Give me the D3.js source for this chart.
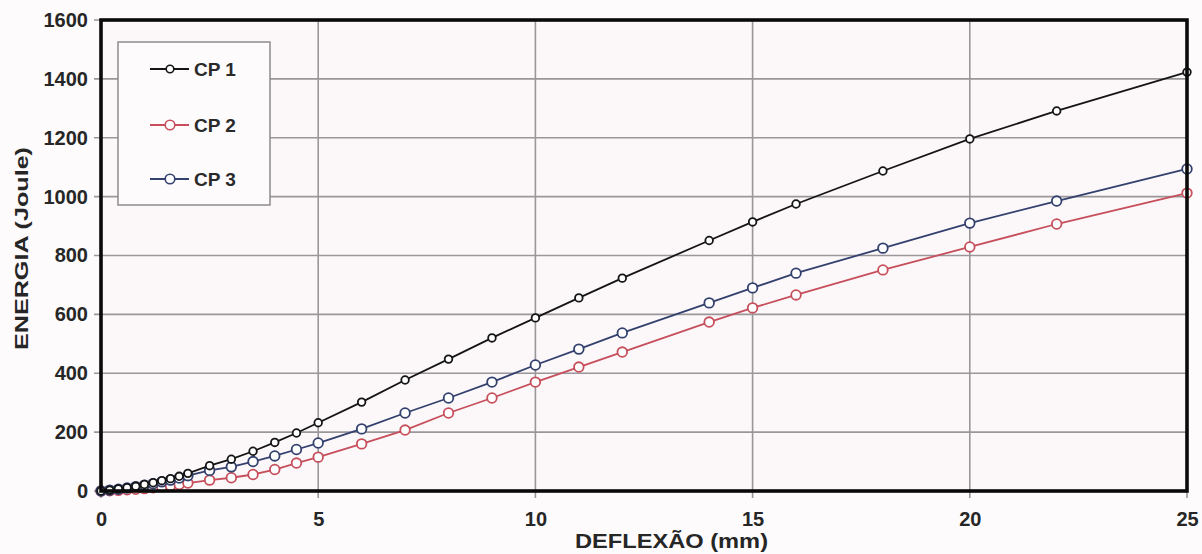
<!DOCTYPE html>
<html>
<head>
<meta charset="utf-8">
<script src="https://cdn.jsdelivr.net/npm/d3@7"></script>
<style>
  html, body { margin: 0; padding: 0; background: #fdfbfc; }
  svg { display: block; }
  text { font-family: "Liberation Sans", Arial, sans-serif; }
</style>
</head>
<body>
<svg id="chart" width="1202" height="554"></svg>
<script>
// ---- data ----
const deflexao = [0,0.2,0.4,0.6,0.8,1.0,1.2,1.4,1.6,1.8,2.0,2.5,3,3.5,4,4.5,5,6,7,8,9,10,11,12,14,15,16,18,20,22,25];
const cp1 = [0,3,7,11,16,22,28,35,42,50,60,86,108,135,165,197,232,302,377,448,520,588,656,723,851,914,975,1087,1196,1291,1423];
const cp2 = [0,1,2,4,6,8,11,14,18,22,27,37,45,56,73,95,115,160,207,265,316,370,421,472,574,622,666,751,829,907,1012];
const cp3 = [0,3,6,10,15,20,25,31,37,44,52,70,82,100,119,141,163,211,265,316,370,428,482,537,639,690,740,825,910,985,1094];
const seriesNames = ["CP 1", "CP 2", "CP 3"];
const xTicks = [0,5,10,15,20,25];
const yTicks = [0,200,400,600,800,1000,1200,1400,1600];
const xTitle = "DEFLEXÃO (mm)";
const yTitle = "ENERGIA (Joule)";

// ---- styles ----
const colors = ["#151515", "#c64f5b", "#33416e"];
const radii = [3.8, 4.8, 4.8];

const W = 1202, H = 554;
const m = {left: 101, right: 15, top: 20, bottom: 63};
const svg = d3.select("#chart");

const x = d3.scaleLinear().domain([0, 25]).range([m.left, W - m.right]);
const y = d3.scaleLinear().domain([0, 1600]).range([H - m.bottom, m.top]);

// plot background
svg.append("rect")
  .attr("x", x(0)).attr("y", y(1600))
  .attr("width", x(25) - x(0)).attr("height", y(0) - y(1600))
  .attr("fill", "#fcf7f9");

// gridlines
const grid = svg.append("g").attr("stroke", "#9a979a").attr("stroke-width", 1.6);
grid.selectAll("line.gx").data(xTicks).join("line")
  .attr("x1", d => x(d)).attr("x2", d => x(d))
  .attr("y1", y(1600)).attr("y2", y(0) + 7);
grid.selectAll("line.gy").data(yTicks).join("line")
  .attr("y1", d => y(d)).attr("y2", d => y(d))
  .attr("x1", x(0) - 7).attr("x2", x(25));

// axes (labels only)
const xAxis = d3.axisBottom(x).tickValues(xTicks).tickSize(0).tickFormat(d3.format("d"));
const gx = svg.append("g").attr("transform", `translate(0,${y(0)})`).call(xAxis);
gx.select(".domain").remove();
gx.selectAll("text").attr("font-size", 20).attr("font-weight", "bold").attr("fill", "#262626")
  .attr("dy", "0.35em").attr("y", 28);

const yAxis = d3.axisLeft(y).tickValues(yTicks).tickSize(0).tickPadding(13).tickFormat(d3.format("d"));
const gy = svg.append("g").attr("transform", `translate(${x(0)},0)`).call(yAxis);
gy.select(".domain").remove();
gy.selectAll("text").attr("font-size", 20).attr("font-weight", "bold").attr("fill", "#262626");

// axis titles
svg.append("text")
  .attr("x", 671.5).attr("y", 548)
  .attr("text-anchor", "middle")
  .attr("font-size", 20).attr("font-weight", "bold").attr("fill", "#262626")
  .attr("textLength", 193).attr("lengthAdjust", "spacingAndGlyphs")
  .text(xTitle);
svg.append("text")
  .attr("transform", "translate(28,248.5) rotate(-90)")
  .attr("text-anchor", "middle")
  .attr("font-size", 18).attr("font-weight", "bold").attr("fill", "#262626")
  .attr("textLength", 203).attr("lengthAdjust", "spacingAndGlyphs")
  .text(yTitle);

// series
const allSeries = [cp1, cp2, cp3];
const line = d3.line().x(d => x(d[0])).y(d => y(d[1]));
const order = [1, 2, 0];
order.forEach(i => {
  const pts = deflexao.map((d, j) => [d, allSeries[i][j]]);
  const g = svg.append("g");
  g.append("path").datum(pts)
    .attr("d", line).attr("fill", "none")
    .attr("stroke", colors[i]).attr("stroke-width", 1.8);
  g.selectAll("circle").data(pts).join("circle")
    .attr("cx", d => x(d[0])).attr("cy", d => y(d[1]))
    .attr("r", radii[i])
    .attr("fill", "#ffffff").attr("stroke", colors[i]).attr("stroke-width", 1.8);
});

// frame
svg.append("rect")
  .attr("x", x(0)).attr("y", y(1600))
  .attr("width", x(25) - x(0)).attr("height", y(0) - y(1600))
  .attr("fill", "none").attr("stroke", "#0a0a0a").attr("stroke-width", 3.6);

// legend
const lg = svg.append("g");
lg.append("rect")
  .attr("x", 118).attr("y", 42).attr("width", 152).attr("height", 163)
  .attr("fill", "#fdfbfc").attr("stroke", "#8e8b8e").attr("stroke-width", 1.5);
const legendY = [69, 125, 179];
seriesNames.forEach((name, i) => {
  const row = lg.append("g").attr("transform", `translate(0,${legendY[i]})`);
  row.append("line").attr("x1", 150).attr("x2", 189).attr("y1", 0).attr("y2", 0)
    .attr("stroke", colors[i]).attr("stroke-width", 1.8);
  row.append("circle").attr("cx", 170).attr("cy", 0).attr("r", radii[i])
    .attr("fill", "#ffffff").attr("stroke", colors[i]).attr("stroke-width", 1.6);
  row.append("text").attr("x", 194).attr("y", 0).attr("dy", "0.36em")
    .attr("font-size", 19).attr("font-weight", "bold").attr("fill", "#2a2a2a")
    .text(name);
});
</script>
</body>
</html>
